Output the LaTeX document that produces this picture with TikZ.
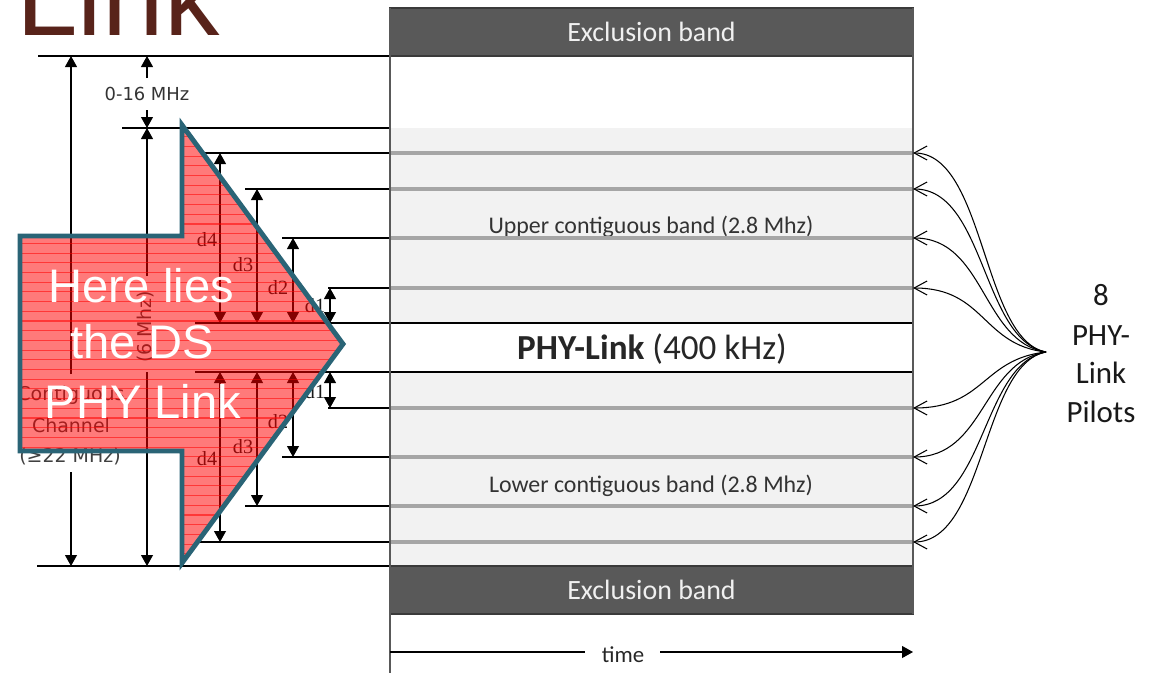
\documentclass[tikz,border=0pt]{standalone}
\usepackage{fontspec}
\setmainfont{Carlito}
\newfontfamily\arialfont{Liberation Sans}
\newfontfamily\dejavu{DejaVu Sans}
\newfontfamily\dserif{Liberation Serif}
\usetikzlibrary{arrows.meta}

\definecolor{exband}{HTML}{595959}
\definecolor{exborder}{HTML}{3A3A3A}
\definecolor{lightband}{HTML}{F2F2F2}
\definecolor{pilotgray}{HTML}{A6A6A6}
\definecolor{titlebrown}{HTML}{58231A}
\definecolor{arrowteal}{HTML}{2A6476}
\definecolor{labelgray}{HTML}{404040}
\definecolor{boxedge}{HTML}{595959}

\tikzset{
  thinline/.style={line width=0.6pt, black},
  dimarrow/.style={thinline, >={Triangle[length=2.2mm,width=2.4mm]}},
  pilotline/.style={line width=2.3pt, pilotgray},
  edgeline/.style={line width=1.1pt, boxedge},
  exclusion/.style={draw=exborder, fill=exband, line width=0.8pt,
    minimum width=10.46cm, minimum height=0.96cm, inner sep=0pt,
    text=white!94!black, font=\fontsize{15.9pt}{19pt}\selectfont},
  bandtext/.style={inner sep=0pt, text=black!80, font=\fontsize{13.6pt}{16pt}\selectfont},
  sidetext/.style={inner sep=0pt, text=labelgray, font=\dejavu\fontsize{10.8pt}{13pt}\selectfont},
  dlabel/.style={inner sep=0pt, text=black!90, font=\dserif\fontsize{11.5pt}{13pt}\selectfont},
  pilottext/.style={inner sep=0pt, anchor=base, text=black!90, font=\fontsize{17.6pt}{21pt}\selectfont},
  pilotarrow/.style={line width=0.6pt, black, -{Straight Barb[length=2.6mm,width=2.8mm]}},
  bigwhite/.style={inner sep=0pt, anchor=base, text=white, font=\arialfont\fontsize{26.8pt}{32pt}\selectfont},
}

\begin{document}
\begin{tikzpicture}[x=0.02cm, y=-0.02cm]
\useasboundingbox (0,0) rectangle (1153,673);

% heading, cut at the top edge
\node[anchor=base west, inner sep=0pt, text=titlebrown,
      font=\arialfont\fontsize{63pt}{63pt}\selectfont] (title) at (16,35) {Link};

% light contiguous bands
\fill[lightband] (390,128) rectangle (913,323);
\fill[lightband] (390,372) rectangle (913,566);

% band captions (drawn before the pilot lines that cross them)
\node[bandtext, anchor=base] (upper) at (651,233) {Upper contiguous band (2.8 Mhz)};
\node[bandtext, anchor=base] (lower) at (651,492) {Lower contiguous band (2.8 Mhz)};
\node[inner sep=0pt, text=black!85, font=\fontsize{20pt}{23pt}\selectfont] (phy) at (652,349)
  {\textbf{PHY-Link} (400 kHz)};

% exclusion bands
\node[exclusion] (exTop) at (651.5,32) {Exclusion band};
\node[exclusion] (exBot) at (651.5,590) {Exclusion band};

% reference lines on the left
\coordinate (r56a) at (38,56);   \coordinate (r56b) at (390,56);
\coordinate (r128a) at (122,128); \coordinate (r128b) at (390,128);
\coordinate (r566a) at (37,566); \coordinate (r566b) at (390,566);
\coordinate (r323a) at (195,323); \coordinate (r323b) at (913,323);
\coordinate (r372a) at (195,372); \coordinate (r372b) at (913,372);
\draw[thinline] (r56a) -- (r56b);
\draw[thinline] (r128a) -- (r128b);
\draw[thinline] (r566a) -- (r566b);
\draw[thinline] (r323a) -- (r323b);
\draw[thinline] (r372a) -- (r372b);

% pilot tones: leader lines and grey pilot traces
\foreach \x/\y [count=\i] in {200/153,245/189,282/238,328/288,328/408,282/457,245/506,200/542}{
  \coordinate (lead\i) at (\x,\y);
  \coordinate (pin\i) at (390,\y);
  \coordinate (pout\i) at (913,\y);
  \draw[thinline] (lead\i) -- (pin\i);
  \draw[pilotline] (pin\i) -- (pout\i);
}

% frame edges
\coordinate (eTL) at (390,8);  \coordinate (eBL) at (390,673);
\coordinate (eTR) at (913,8);  \coordinate (eBR) at (913,614);
\draw[edgeline] (eTL) -- (eBL);
\draw[edgeline] (eTR) -- (eBR);

% overall channel width
\node[sidetext, anchor=base] (cc1) at (71,400) {Contiguous};
\node[sidetext, anchor=base] (cc2) at (71,432) {Channel};
\node[sidetext, anchor=base] (cc3) at (70,462) {(≥22 MHz)};
\coordinate (cTop) at (71,56); \coordinate (cTopEnd) at (71,374);
\coordinate (cBot) at (71,566); \coordinate (cBotEnd) at (71,472);
\draw[dimarrow,->] (cTopEnd) -- (cTop);
\draw[dimarrow,->] (cBotEnd) -- (cBot);

% 0-16 MHz guard
\node[sidetext, text=black!80, font=\dejavu\fontsize{10.2pt}{12pt}\selectfont] (gap) at (147,94) {0-16 MHz};
\coordinate (gTop) at (147,56); \coordinate (gTopEnd) at (147,78);
\coordinate (gBot) at (147,128); \coordinate (gBotEnd) at (147,110);
\draw[dimarrow,->] (gTopEnd) -- (gTop);
\draw[dimarrow,->] (gBotEnd) -- (gBot);

% 6 MHz span
\node[sidetext, rotate=90] (six) at (146,327) {(6 Mhz)};
\coordinate (sTop) at (147,128); \coordinate (sTopEnd) at (147,276);
\coordinate (sBot) at (147,566); \coordinate (sBotEnd) at (147,372);
\draw[dimarrow,->] (sTopEnd) -- (sTop);
\draw[dimarrow,->] (sBotEnd) -- (sBot);

% pilot offsets d1..d4 above and below the PHY-Link
\foreach \x/\yu/\yl/\lab/\lxu/\lyu/\lyl in
  {220/153/542/d4/207/240/459, 257/189/506/d3/243/265/447,
   293/238/457/d2/278/288/422, 330/288/408/d1/315/306/392}{
  \coordinate (du\lab) at (\x,\yu);  \coordinate (dc\lab) at (\x,323);
  \coordinate (dl\lab) at (\x,\yl);  \coordinate (dd\lab) at (\x,372);
  \draw[dimarrow,<->] (du\lab) -- (dc\lab);
  \draw[dimarrow,<->] (dd\lab) -- (dl\lab);
  \node[dlabel] (lu\lab) at (\lxu,\lyu) {\lab};
  \node[dlabel] (ll\lab) at (\lxu,\lyl) {\lab};
}

% pilot callout
\coordinate (hub) at (1046,352);
\foreach \i/\c/\y in {1/340/153,2/340/189,3/342/238,4/345/288,5/359/408,6/362/457,7/364/506,8/364/542}{
  \draw[pilotarrow] (hub) .. controls (982,\c) and (985,\y) .. (pout\i);
}
\node[pilottext] (pl1) at (1101,305) {8};
\node[pilottext] (pl2) at (1101,345) {PHY-};
\node[pilottext] (pl3) at (1101,383) {Link};
\node[pilottext] (pl4) at (1101,422) {Pilots};

% time axis
\node[inner sep=0pt, text=black!85, font=\fontsize{13pt}{15pt}\selectfont] (time) at (623,655) {time};
\coordinate (tA) at (390,652); \coordinate (tB) at (585,652);
\coordinate (tC) at (660,652); \coordinate (tD) at (913,652);
\draw[thinline] (tA) -- (tB);
\draw[dimarrow,->] (tC) -- (tD);

% translucent block arrow overlay
\begin{scope}
  \clip (20,236) -- (182,236) -- (182,125) -- (343,344) -- (182,563) -- (182,451) -- (20,451) -- cycle;
  \fill[red, opacity=0.52] (0,100) rectangle (400,600);
  \foreach \k in {0,...,45}{
    \draw[red, opacity=0.55, line width=0.6pt] (0,{127+9.7*\k}) -- (400,{127+9.7*\k});
  }
\end{scope}
\draw[arrowteal, line width=2.8pt, line join=miter]
  (20,236) -- (182,236) -- (182,125) -- (343,344) -- (182,563) -- (182,451) -- (20,451) -- cycle;

\node[bigwhite] (ht1) at (141,302) {Here lies};
\node[bigwhite] (ht2) at (142,358) {the DS};
\node[bigwhite] (ht3) at (143,418) {PHY Link};
\end{tikzpicture}
\end{document}
